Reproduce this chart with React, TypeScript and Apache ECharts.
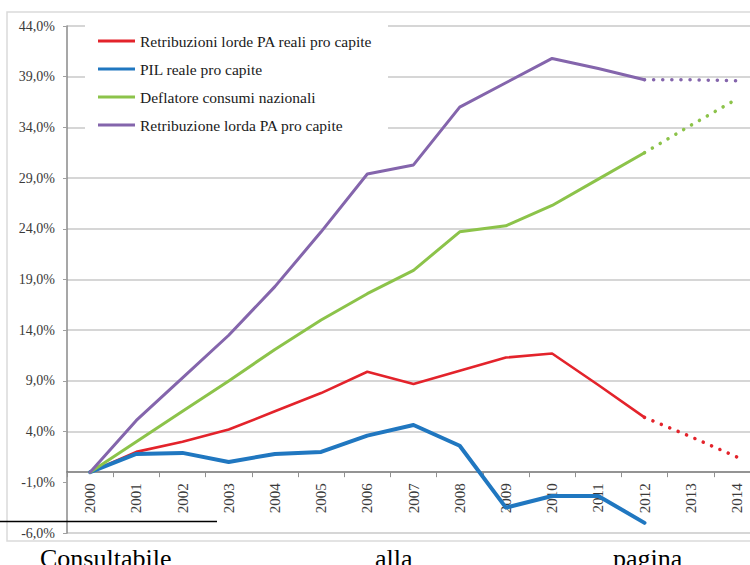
import React, { useEffect, useRef } from "react";
import * as echarts from "echarts";

const years = ["2000", "2001", "2002", "2003", "2004", "2005", "2006", "2007", "2008", "2009", "2010", "2011", "2012", "2013", "2014"];
const seriesNames = [
  "Retribuzioni lorde PA reali pro capite",
  "PIL reale pro capite",
  "Deflatore consumi nazionali",
  "Retribuzione lorda PA pro capite",
];
const retribReali = [0, 2.0, 3.0, 4.2, 6.0, 7.8, 9.9, 8.7, 10.0, 11.3, 11.7, 8.6, 5.4, 3.5, 1.5];
const pilReale = [0, 1.8, 1.9, 1.0, 1.8, 2.0, 3.6, 4.65, 2.6, -3.5, -2.35, -2.35, -5.0, null, null];
const deflatore = [0, 3.0, 6.0, 9.0, 12.1, 15.0, 17.6, 19.9, 23.7, 24.3, 26.3, 28.9, 31.5, 34.2, 36.8];
const retribLorda = [0, 5.1, 9.3, 13.5, 18.3, 23.7, 29.4, 30.3, 36.0, 38.4, 40.8, 39.8, 38.7, 38.7, 38.6];
const lastActualIndex = 12; // 2012: later years are projections (dotted)
const footerWords = ["Consultabile", "alla", "pagina"];

const colors = ["#e3232b", "#2077c0", "#8cc34a", "#8465ac"];
const widths = [2.6, 4, 3, 3];

const SERIF = "Liberation Serif";

const GRID_TOP = 26;
const GRID_H = 507;
const Y_MIN = -6;
const Y_MAX = 44;

function solidPart(arr: (number | null)[]) {
  return arr.map((v, i) => (i <= lastActualIndex ? v : null));
}
function dottedPart(arr: (number | null)[]) {
  return arr.map((v, i) => (i >= lastActualIndex ? v : null));
}

export default function App() {
  const ref = useRef<HTMLDivElement>(null);
  useEffect(() => {
    if (!ref.current) return;
    const chart = echarts.init(ref.current, null, { renderer: "svg" });
    const all = [retribReali, pilReale, deflatore, retribLorda];
    const series: any[] = [];
    all.forEach((arr, k) => {
      series.push({
        name: seriesNames[k],
        type: "line",
        data: solidPart(arr),
        symbol: "none",
        connectNulls: false,
        lineStyle: { color: colors[k], width: widths[k], cap: "round", join: "round" },
        itemStyle: { color: colors[k] },
        z: 3 + k,
      });
    });
    all.forEach((arr, k) => {
      const d = dottedPart(arr);
      if (d.filter((v) => v != null).length < 2) return;
      series.push({
        name: seriesNames[k] + " (proiezione)",
        type: "line",
        data: d,
        symbol: "none",
        lineStyle: { color: colors[k], width: 3.5, type: [0.1, 9], cap: "round" },
        itemStyle: { color: colors[k] },
        z: 3 + k,
      });
    });

    const splitColors = ["#c8c8c8", "transparent", "#c8c8c8", "#c8c8c8", "#c8c8c8", "#c8c8c8", "#c8c8c8", "#c8c8c8", "#c8c8c8", "#c8c8c8", "#c8c8c8"];
    // move the category axis (line, ticks, labels) up to the zero level
    const zeroOffset = -(GRID_H * (0 - Y_MIN)) / (Y_MAX - Y_MIN);

    chart.setOption({
      animation: false,
      backgroundColor: "#ffffff",
      textStyle: { fontFamily: SERIF },
      grid: { left: 67, top: GRID_TOP, width: 693, height: GRID_H, containLabel: false, outerBoundsMode: "none" },
      legend: {
        data: seriesNames,
        orient: "vertical",
        left: 98,
        top: 33,
        padding: 0,
        itemWidth: 37,
        itemHeight: 3,
        itemGap: 12,
        icon: "rect",
        textStyle: { fontFamily: SERIF, fontSize: 15.5, color: "#1a1a1a", lineHeight: 16 },
        z: 10,
      },
      xAxis: {
        type: "category",
        data: years,
        boundaryGap: true,
        offset: zeroOffset,
        axisLine: { onZero: false, lineStyle: { color: "#707070", width: 1.5 } },
        axisTick: { show: true, length: 5, interval: 0, lineStyle: { color: "#909090" } },
        axisLabel: { rotate: 90, margin: 11, interval: 0, fontFamily: SERIF, fontSize: 15, color: "#3a3a3a" },
        splitLine: { show: false },
      },
      yAxis: {
        type: "value",
        min: Y_MIN,
        max: Y_MAX,
        interval: 5,
        axisLine: { show: true, onZero: false, lineStyle: { color: "#8a8a8a", width: 1.5 } },
        axisTick: { show: true, length: 4, lineStyle: { color: "#a0a0a0" } },
        axisLabel: {
          margin: 12,
          fontFamily: SERIF,
          fontSize: 14,
          color: "#3a3a3a",
          formatter: (v: number) => v.toFixed(1).replace(".", ",") + "%",
        },
        splitLine: { show: true, lineStyle: { color: splitColors, width: 1.5 } },
      },
      graphic: [
        { type: "rect", shape: { x: 7, y: 12, width: 800, height: 529 }, style: { fill: "transparent", stroke: "#dadada", lineWidth: 1.5 }, z: 0 },
        { type: "rect", shape: { x: 85, y: 15, width: 303, height: 125 }, style: { fill: "#ffffff" }, z: 1 },
        { type: "line", shape: { x1: 0, y1: 521.5, x2: 217, y2: 521.5 }, style: { stroke: "#000000", lineWidth: 1.6 }, z: 20 },
        { type: "text", x: 40, y: 558, style: { text: footerWords[0], font: "26px Liberation Serif", fill: "#000", verticalAlign: "middle" }, z: 20 },
        { type: "text", x: 375, y: 558, style: { text: footerWords[1], font: "26px Liberation Serif", fill: "#000", verticalAlign: "middle" }, z: 20 },
        { type: "text", x: 613, y: 558, style: { text: footerWords[2], font: "26px Liberation Serif", fill: "#000", verticalAlign: "middle" }, z: 20 },
      ],
      series,
    });
    return () => chart.dispose();
  }, []);
  return (
    <div
      ref={ref}
      style={{ position: "absolute", left: 0, top: 0, width: 750, height: 565, background: "#fff", overflow: "hidden" }}
    />
  );
}
